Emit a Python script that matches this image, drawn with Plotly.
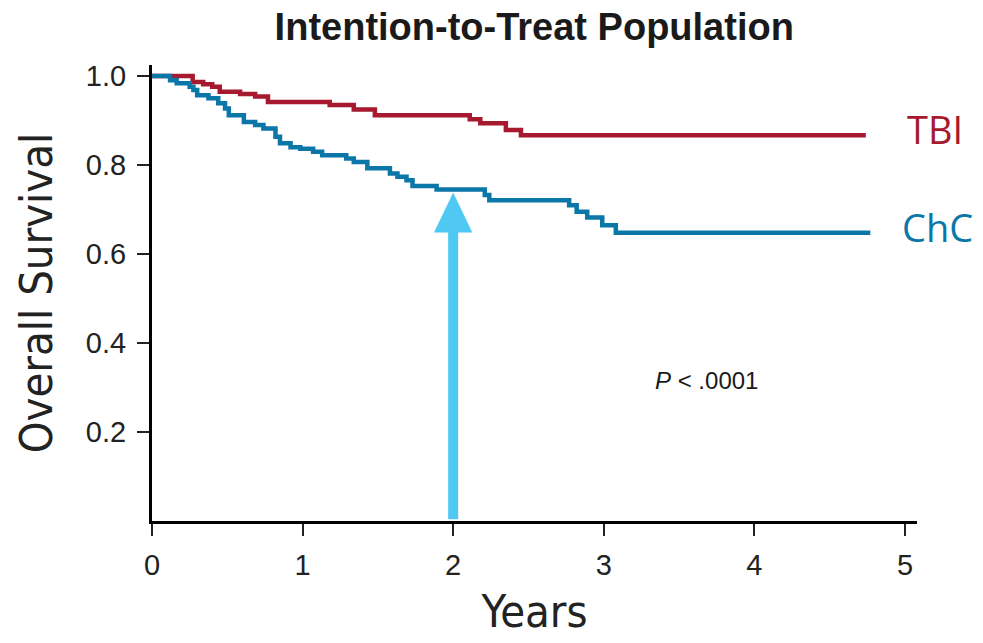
import plotly.graph_objects as go

# ---- data ----
tbi_years = [0, 0.27, 0.34, 0.40, 0.45, 0.585, 0.685, 0.77, 1.18, 1.34, 1.48,
             2.11, 2.18, 2.35, 2.45, 4.74]
tbi_surv = [1.0, 0.987, 0.982, 0.976, 0.965, 0.960, 0.954, 0.942, 0.935, 0.925,
            0.912, 0.903, 0.894, 0.879, 0.867, 0.867]

chc_years = [0, 0.12, 0.164, 0.25, 0.275, 0.30, 0.375, 0.44, 0.485, 0.51, 0.61,
             0.685, 0.74, 0.82, 0.85, 0.92, 0.985, 1.07, 1.13, 1.29, 1.34, 1.43,
             1.58, 1.63, 1.69, 1.73, 1.89, 2.21, 2.24, 2.77, 2.82, 2.89, 2.99,
             3.08, 4.77]
chc_surv = [1.0, 0.991, 0.984, 0.976, 0.969, 0.957, 0.950, 0.939, 0.927, 0.912,
            0.897, 0.890, 0.882, 0.864, 0.849, 0.840, 0.837, 0.830, 0.822, 0.815,
            0.807, 0.793, 0.781, 0.774, 0.766, 0.753, 0.745, 0.733, 0.721, 0.710,
            0.695, 0.682, 0.665, 0.648, 0.648]

x_ticks = [0, 1, 2, 3, 4, 5]
y_ticks = [0.2, 0.4, 0.6, 0.8, 1.0]
y_tick_labels = ["0.2", "0.4", "0.6", "0.8", "1.0"]

# highlight arrow at 2 years
arrow_year = 2
arrow_tip = 0.737
arrow_head_base = 0.649
arrow_head_half = 0.125

RED = "#A6192E"
BLUE = "#0B77A9"
ARROW = "#4FC9F4"

fig = go.Figure()

fig.add_trace(go.Scatter(x=tbi_years, y=tbi_surv, mode="lines", line_shape="hv",
                         line=dict(color=RED, width=4.5), hoverinfo="skip",
                         showlegend=False, name="TBI"))
fig.add_trace(go.Scatter(x=chc_years, y=chc_surv, mode="lines", line_shape="hv",
                         line=dict(color=BLUE, width=4.5), hoverinfo="skip",
                         showlegend=False, name="ChC"))

# arrow shaft
fig.add_trace(go.Scatter(x=[arrow_year, arrow_year], y=[0.004, arrow_head_base + 0.005],
                         mode="lines", line=dict(color=ARROW, width=10),
                         hoverinfo="skip", showlegend=False))
# arrow head
fig.add_trace(go.Scatter(x=[arrow_year - arrow_head_half, arrow_year + arrow_head_half,
                            arrow_year, arrow_year - arrow_head_half],
                         y=[arrow_head_base, arrow_head_base, arrow_tip, arrow_head_base],
                         mode="lines", fill="toself", fillcolor=ARROW,
                         line=dict(color=ARROW, width=0.5),
                         hoverinfo="skip", showlegend=False))

tick_font = dict(family="Liberation Sans, Arial, sans-serif", size=29, color="#222222")
cond_font = dict(family="DejaVu Sans Condensed, Roboto Condensed, Liberation Sans Narrow, sans-serif",
                 size=45, color="#222222")

fig.update_layout(
    width=983, height=643,
    margin=dict(l=152, r=66, t=65, b=122),
    paper_bgcolor="white", plot_bgcolor="white",
    title=dict(text="<b>Intention-to-Treat Population</b>",
               font=dict(family="Liberation Sans, Arial, sans-serif", size=38, color="#1a1a1a"),
               x=0.5435, xanchor="center", y=0.958, yanchor="middle"),
    xaxis=dict(range=[0, 5.08], tickvals=x_ticks, ticktext=[str(v) for v in x_ticks],
               showgrid=False, zeroline=False, showline=True, linecolor="black",
               linewidth=3, ticks="outside", ticklen=12, tickwidth=2, tickcolor="#222",
               tickfont=tick_font, ticklabelstandoff=4,
               title=dict(text="Years", font=cond_font, standoff=16)),
    yaxis=dict(range=[0, 1.025], tickvals=y_ticks, ticktext=y_tick_labels,
               showgrid=False, zeroline=False, showline=True, linecolor="black",
               linewidth=3, ticks="outside", ticklen=12, tickwidth=2, tickcolor="#222",
               tickfont=tick_font, ticklabelstandoff=5,
               title=dict(text="Overall Survival", font=cond_font, standoff=20)),
    annotations=[
        dict(x=5.0, y=tbi_surv[-1], xref="x", yref="y", text="TBI", showarrow=False,
             xanchor="left", yanchor="middle", yshift=6,
             font=dict(family="Open Sans, Noto Sans, sans-serif", size=38, color=RED)),
        dict(x=4.97, y=chc_surv[-1], xref="x", yref="y", text="ChC", showarrow=False,
             xanchor="left", yanchor="middle", yshift=6,
             font=dict(family="Open Sans, Noto Sans, sans-serif", size=38, color=BLUE)),
        dict(x=3.33, y=0.315, xref="x", yref="y", text="<i>P</i> < .0001",
             showarrow=False, xanchor="left", yanchor="middle",
             font=dict(family="Liberation Sans, Arial, sans-serif", size=24, color="#1a1a1a")),
    ],
)

fig.write_html("out.html", config={"displayModeBar": False},
               post_script="document.body.style.margin='0';document.body.style.padding='0';")
